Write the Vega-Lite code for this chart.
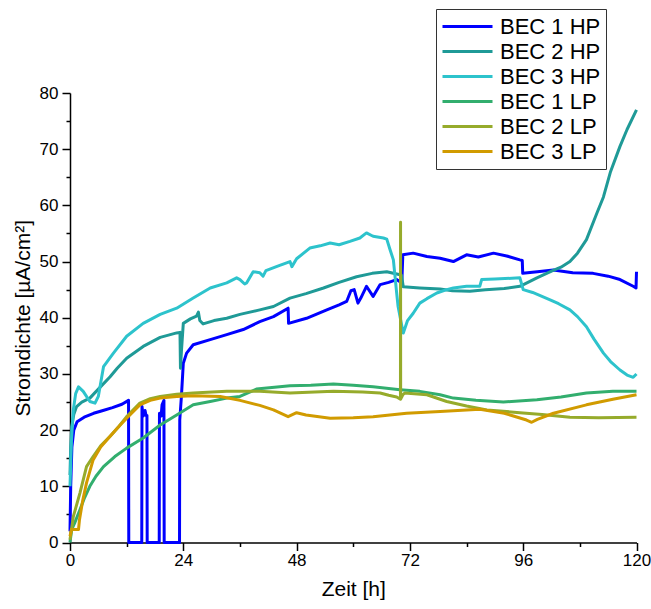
{
  "$schema": "https://vega.github.io/schema/vega-lite/v6.json",
  "width": 566.5,
  "height": 449.5,
  "autosize": "none",
  "padding": {"left": 70, "top": 93, "right": 14.5, "bottom": 66.5},
  "background": "white",
  "config": {"view": {"stroke": null}, "font": "Liberation Sans"},
  "data": {"values": [
    {"s":"BEC 1 HP","t":0,"v":2},{"s":"BEC 1 HP","t":0.15,"v":10},{"s":"BEC 1 HP","t":0.4,"v":17},{"s":"BEC 1 HP","t":0.8,"v":20},{"s":"BEC 1 HP","t":1.5,"v":21.5},{"s":"BEC 1 HP","t":3,"v":22.3},{"s":"BEC 1 HP","t":5,"v":23},{"s":"BEC 1 HP","t":7,"v":23.5},{"s":"BEC 1 HP","t":9,"v":24},{"s":"BEC 1 HP","t":11,"v":24.6},{"s":"BEC 1 HP","t":12.4,"v":25.3},{"s":"BEC 1 HP","t":12.45,"v":0},{"s":"BEC 1 HP","t":15.2,"v":0},{"s":"BEC 1 HP","t":15.25,"v":24.2},{"s":"BEC 1 HP","t":15.5,"v":22.5},{"s":"BEC 1 HP","t":15.9,"v":23.5},{"s":"BEC 1 HP","t":16.1,"v":22.6},{"s":"BEC 1 HP","t":16.3,"v":22.6},{"s":"BEC 1 HP","t":16.35,"v":0},{"s":"BEC 1 HP","t":18.9,"v":0},{"s":"BEC 1 HP","t":18.95,"v":23},{"s":"BEC 1 HP","t":19.3,"v":22.5},{"s":"BEC 1 HP","t":19.5,"v":24.5},{"s":"BEC 1 HP","t":19.9,"v":25.3},{"s":"BEC 1 HP","t":19.95,"v":0},{"s":"BEC 1 HP","t":23.2,"v":0},{"s":"BEC 1 HP","t":23.25,"v":21.8},{"s":"BEC 1 HP","t":23.6,"v":26},{"s":"BEC 1 HP","t":24,"v":31.9},{"s":"BEC 1 HP","t":24.7,"v":33.7},{"s":"BEC 1 HP","t":26.1,"v":35.2},{"s":"BEC 1 HP","t":29.7,"v":36.1},{"s":"BEC 1 HP","t":33.2,"v":37},{"s":"BEC 1 HP","t":36.7,"v":37.9},{"s":"BEC 1 HP","t":40.2,"v":39.3},{"s":"BEC 1 HP","t":43.1,"v":40.2},{"s":"BEC 1 HP","t":46.2,"v":41.7},{"s":"BEC 1 HP","t":46.3,"v":39},{"s":"BEC 1 HP","t":50.1,"v":39.9},{"s":"BEC 1 HP","t":54.4,"v":41.4},{"s":"BEC 1 HP","t":57,"v":42.3},{"s":"BEC 1 HP","t":58.6,"v":42.9},{"s":"BEC 1 HP","t":59.5,"v":44.8},{"s":"BEC 1 HP","t":60.2,"v":45},{"s":"BEC 1 HP","t":61,"v":42.6},{"s":"BEC 1 HP","t":61.6,"v":43.5},{"s":"BEC 1 HP","t":62.8,"v":45.6},{"s":"BEC 1 HP","t":64.2,"v":43.8},{"s":"BEC 1 HP","t":65.7,"v":45.9},{"s":"BEC 1 HP","t":67.5,"v":46.3},{"s":"BEC 1 HP","t":69.2,"v":46.8},{"s":"BEC 1 HP","t":69.9,"v":46.4},{"s":"BEC 1 HP","t":70.3,"v":46.5},{"s":"BEC 1 HP","t":70.5,"v":51.2},{"s":"BEC 1 HP","t":72.7,"v":51.5},{"s":"BEC 1 HP","t":75.6,"v":50.9},{"s":"BEC 1 HP","t":78.4,"v":50.6},{"s":"BEC 1 HP","t":81.2,"v":50},{"s":"BEC 1 HP","t":84,"v":51.2},{"s":"BEC 1 HP","t":86.5,"v":50.8},{"s":"BEC 1 HP","t":89.7,"v":51.5},{"s":"BEC 1 HP","t":92.5,"v":51},{"s":"BEC 1 HP","t":95.3,"v":50.3},{"s":"BEC 1 HP","t":95.8,"v":50.2},{"s":"BEC 1 HP","t":95.9,"v":47.9},{"s":"BEC 1 HP","t":99,"v":48.2},{"s":"BEC 1 HP","t":102.4,"v":48.5},{"s":"BEC 1 HP","t":106.5,"v":48},{"s":"BEC 1 HP","t":110.8,"v":47.9},{"s":"BEC 1 HP","t":114,"v":47.4},{"s":"BEC 1 HP","t":116.5,"v":46.8},{"s":"BEC 1 HP","t":119.3,"v":45.6},{"s":"BEC 1 HP","t":119.9,"v":45.3},{"s":"BEC 1 HP","t":120,"v":48.2},

    {"s":"BEC 2 HP","t":0,"v":12},{"s":"BEC 2 HP","t":0.15,"v":17},{"s":"BEC 2 HP","t":0.35,"v":20.6},{"s":"BEC 2 HP","t":0.8,"v":22.8},{"s":"BEC 2 HP","t":1.4,"v":24.2},{"s":"BEC 2 HP","t":2.5,"v":25},{"s":"BEC 2 HP","t":4.2,"v":25.7},{"s":"BEC 2 HP","t":6,"v":27.3},{"s":"BEC 2 HP","t":8.5,"v":29.5},{"s":"BEC 2 HP","t":10,"v":31},{"s":"BEC 2 HP","t":12,"v":32.8},{"s":"BEC 2 HP","t":15.5,"v":34.9},{"s":"BEC 2 HP","t":19.1,"v":36.5},{"s":"BEC 2 HP","t":22.6,"v":37.3},{"s":"BEC 2 HP","t":23.3,"v":37.4},{"s":"BEC 2 HP","t":23.4,"v":31},{"s":"BEC 2 HP","t":23.6,"v":34},{"s":"BEC 2 HP","t":24,"v":39},{"s":"BEC 2 HP","t":25.5,"v":39.8},{"s":"BEC 2 HP","t":26.8,"v":40.3},{"s":"BEC 2 HP","t":27.2,"v":41},{"s":"BEC 2 HP","t":27.5,"v":39.5},{"s":"BEC 2 HP","t":28.2,"v":38.9},{"s":"BEC 2 HP","t":30.5,"v":39.5},{"s":"BEC 2 HP","t":33.2,"v":39.9},{"s":"BEC 2 HP","t":36,"v":40.6},{"s":"BEC 2 HP","t":40.2,"v":41.4},{"s":"BEC 2 HP","t":43.1,"v":42},{"s":"BEC 2 HP","t":46.6,"v":43.5},{"s":"BEC 2 HP","t":50,"v":44.3},{"s":"BEC 2 HP","t":53.7,"v":45.3},{"s":"BEC 2 HP","t":57,"v":46.3},{"s":"BEC 2 HP","t":60.7,"v":47.3},{"s":"BEC 2 HP","t":64,"v":47.9},{"s":"BEC 2 HP","t":67.1,"v":48.2},{"s":"BEC 2 HP","t":69.2,"v":47.8},{"s":"BEC 2 HP","t":70.2,"v":47.6},{"s":"BEC 2 HP","t":70.6,"v":45.5},{"s":"BEC 2 HP","t":74.1,"v":45.3},{"s":"BEC 2 HP","t":78.4,"v":45.1},{"s":"BEC 2 HP","t":81,"v":44.8},{"s":"BEC 2 HP","t":84.7,"v":44.7},{"s":"BEC 2 HP","t":88,"v":45},{"s":"BEC 2 HP","t":92,"v":45.2},{"s":"BEC 2 HP","t":95.3,"v":45.6},{"s":"BEC 2 HP","t":97,"v":46.3},{"s":"BEC 2 HP","t":98.9,"v":47.1},{"s":"BEC 2 HP","t":102,"v":48.3},{"s":"BEC 2 HP","t":104,"v":49},{"s":"BEC 2 HP","t":105.9,"v":50},{"s":"BEC 2 HP","t":107.5,"v":51.5},{"s":"BEC 2 HP","t":109.4,"v":53.9},{"s":"BEC 2 HP","t":111.6,"v":58.6},{"s":"BEC 2 HP","t":113,"v":61.5},{"s":"BEC 2 HP","t":114.5,"v":66},{"s":"BEC 2 HP","t":116.5,"v":70.5},{"s":"BEC 2 HP","t":118,"v":73.5},{"s":"BEC 2 HP","t":120,"v":77},

    {"s":"BEC 3 HP","t":0,"v":10},{"s":"BEC 3 HP","t":0.3,"v":18},{"s":"BEC 3 HP","t":0.7,"v":23.6},{"s":"BEC 3 HP","t":1.2,"v":26.5},{"s":"BEC 3 HP","t":1.8,"v":27.7},{"s":"BEC 3 HP","t":2.8,"v":26.9},{"s":"BEC 3 HP","t":4.2,"v":25.1},{"s":"BEC 3 HP","t":5.3,"v":24.8},{"s":"BEC 3 HP","t":6,"v":26},{"s":"BEC 3 HP","t":7.1,"v":31.3},{"s":"BEC 3 HP","t":9.2,"v":33.7},{"s":"BEC 3 HP","t":12,"v":36.7},{"s":"BEC 3 HP","t":15.5,"v":39},{"s":"BEC 3 HP","t":19.1,"v":40.6},{"s":"BEC 3 HP","t":22.6,"v":41.7},{"s":"BEC 3 HP","t":26.1,"v":43.5},{"s":"BEC 3 HP","t":29.7,"v":45.3},{"s":"BEC 3 HP","t":33.2,"v":46.2},{"s":"BEC 3 HP","t":35.3,"v":47.1},{"s":"BEC 3 HP","t":36,"v":46.8},{"s":"BEC 3 HP","t":37,"v":46},{"s":"BEC 3 HP","t":37.4,"v":46.2},{"s":"BEC 3 HP","t":38.8,"v":48.2},{"s":"BEC 3 HP","t":40.2,"v":48},{"s":"BEC 3 HP","t":40.9,"v":47.4},{"s":"BEC 3 HP","t":41.5,"v":48.4},{"s":"BEC 3 HP","t":44,"v":49.2},{"s":"BEC 3 HP","t":46.6,"v":50},{"s":"BEC 3 HP","t":47,"v":49.1},{"s":"BEC 3 HP","t":48,"v":50.5},{"s":"BEC 3 HP","t":50.8,"v":52.4},{"s":"BEC 3 HP","t":53,"v":52.8},{"s":"BEC 3 HP","t":55.1,"v":53.3},{"s":"BEC 3 HP","t":57,"v":53},{"s":"BEC 3 HP","t":59.3,"v":53.6},{"s":"BEC 3 HP","t":61.4,"v":54.2},{"s":"BEC 3 HP","t":62.8,"v":55.1},{"s":"BEC 3 HP","t":64.2,"v":54.5},{"s":"BEC 3 HP","t":66.4,"v":54.2},{"s":"BEC 3 HP","t":67.1,"v":54},{"s":"BEC 3 HP","t":67.8,"v":52.1},{"s":"BEC 3 HP","t":68.5,"v":50.3},{"s":"BEC 3 HP","t":69.2,"v":44.4},{"s":"BEC 3 HP","t":69.5,"v":42},{"s":"BEC 3 HP","t":70.3,"v":38.5},{"s":"BEC 3 HP","t":70.6,"v":37.3},{"s":"BEC 3 HP","t":71.5,"v":39.5},{"s":"BEC 3 HP","t":72.7,"v":40.8},{"s":"BEC 3 HP","t":74.1,"v":42.6},{"s":"BEC 3 HP","t":75.6,"v":43.4},{"s":"BEC 3 HP","t":77.7,"v":44.4},{"s":"BEC 3 HP","t":79.8,"v":45},{"s":"BEC 3 HP","t":81.2,"v":45.3},{"s":"BEC 3 HP","t":84,"v":45.6},{"s":"BEC 3 HP","t":86.8,"v":45.6},{"s":"BEC 3 HP","t":87.2,"v":46.8},{"s":"BEC 3 HP","t":90,"v":46.9},{"s":"BEC 3 HP","t":95.3,"v":47.1},{"s":"BEC 3 HP","t":96,"v":45},{"s":"BEC 3 HP","t":98,"v":44.5},{"s":"BEC 3 HP","t":101.7,"v":43.2},{"s":"BEC 3 HP","t":103.5,"v":42.5},{"s":"BEC 3 HP","t":105.9,"v":41.4},{"s":"BEC 3 HP","t":107.5,"v":40.2},{"s":"BEC 3 HP","t":109.4,"v":38.4},{"s":"BEC 3 HP","t":111,"v":36.2},{"s":"BEC 3 HP","t":113,"v":33.7},{"s":"BEC 3 HP","t":114.5,"v":32.2},{"s":"BEC 3 HP","t":116.5,"v":30.7},{"s":"BEC 3 HP","t":118,"v":29.8},{"s":"BEC 3 HP","t":119.3,"v":29.4},{"s":"BEC 3 HP","t":120,"v":30},

    {"s":"BEC 1 LP","t":0,"v":0},{"s":"BEC 1 LP","t":0.35,"v":2.3},{"s":"BEC 1 LP","t":1,"v":3.5},{"s":"BEC 1 LP","t":2.1,"v":5.8},{"s":"BEC 1 LP","t":3,"v":7.8},{"s":"BEC 1 LP","t":4.2,"v":10},{"s":"BEC 1 LP","t":5.5,"v":11.8},{"s":"BEC 1 LP","t":7.1,"v":13.5},{"s":"BEC 1 LP","t":9.5,"v":15.3},{"s":"BEC 1 LP","t":12,"v":16.8},{"s":"BEC 1 LP","t":15.5,"v":18.6},{"s":"BEC 1 LP","t":19.1,"v":20.9},{"s":"BEC 1 LP","t":22.6,"v":22.7},{"s":"BEC 1 LP","t":26.1,"v":24.5},{"s":"BEC 1 LP","t":29.7,"v":25.1},{"s":"BEC 1 LP","t":33.2,"v":25.7},{"s":"BEC 1 LP","t":36,"v":26},{"s":"BEC 1 LP","t":39.5,"v":27.3},{"s":"BEC 1 LP","t":46.6,"v":27.9},{"s":"BEC 1 LP","t":51,"v":28},{"s":"BEC 1 LP","t":55.8,"v":28.2},{"s":"BEC 1 LP","t":60,"v":28},{"s":"BEC 1 LP","t":64.2,"v":27.7},{"s":"BEC 1 LP","t":69.9,"v":27.2},{"s":"BEC 1 LP","t":74.1,"v":26.9},{"s":"BEC 1 LP","t":78.4,"v":26.3},{"s":"BEC 1 LP","t":81.2,"v":25.7},{"s":"BEC 1 LP","t":86,"v":25.3},{"s":"BEC 1 LP","t":91.8,"v":25},{"s":"BEC 1 LP","t":98.9,"v":25.4},{"s":"BEC 1 LP","t":104,"v":25.9},{"s":"BEC 1 LP","t":109.4,"v":26.6},{"s":"BEC 1 LP","t":115,"v":26.9},{"s":"BEC 1 LP","t":120,"v":26.9},

    {"s":"BEC 2 LP","t":0,"v":0.5},{"s":"BEC 2 LP","t":0.7,"v":4.6},{"s":"BEC 2 LP","t":2.1,"v":8.8},{"s":"BEC 2 LP","t":3.5,"v":13.5},{"s":"BEC 2 LP","t":4.9,"v":15.3},{"s":"BEC 2 LP","t":6.5,"v":17.2},{"s":"BEC 2 LP","t":8.5,"v":18.9},{"s":"BEC 2 LP","t":10.3,"v":20.6},{"s":"BEC 2 LP","t":12,"v":22.4},{"s":"BEC 2 LP","t":14.8,"v":24.8},{"s":"BEC 2 LP","t":17,"v":25.6},{"s":"BEC 2 LP","t":19.1,"v":26},{"s":"BEC 2 LP","t":22.6,"v":26.4},{"s":"BEC 2 LP","t":26.1,"v":26.6},{"s":"BEC 2 LP","t":33.2,"v":26.9},{"s":"BEC 2 LP","t":40.2,"v":26.9},{"s":"BEC 2 LP","t":46.6,"v":26.6},{"s":"BEC 2 LP","t":55.8,"v":26.9},{"s":"BEC 2 LP","t":62,"v":26.8},{"s":"BEC 2 LP","t":65.7,"v":26.6},{"s":"BEC 2 LP","t":67.5,"v":26.2},{"s":"BEC 2 LP","t":69.2,"v":25.9},{"s":"BEC 2 LP","t":70,"v":25.5},{"s":"BEC 2 LP","t":70.02,"v":57},{"s":"BEC 2 LP","t":70.04,"v":25.5},{"s":"BEC 2 LP","t":70.5,"v":26.3},{"s":"BEC 2 LP","t":70.9,"v":26.6},{"s":"BEC 2 LP","t":75.6,"v":26.3},{"s":"BEC 2 LP","t":78.4,"v":25.5},{"s":"BEC 2 LP","t":79.8,"v":25.1},{"s":"BEC 2 LP","t":84,"v":24.3},{"s":"BEC 2 LP","t":88.3,"v":23.6},{"s":"BEC 2 LP","t":95.3,"v":23.1},{"s":"BEC 2 LP","t":100,"v":22.8},{"s":"BEC 2 LP","t":105.9,"v":22.3},{"s":"BEC 2 LP","t":112,"v":22.2},{"s":"BEC 2 LP","t":120,"v":22.3},

    {"s":"BEC 3 LP","t":0,"v":1.1},{"s":"BEC 3 LP","t":0.3,"v":2.3},{"s":"BEC 3 LP","t":1.8,"v":2.3},{"s":"BEC 3 LP","t":2,"v":4},{"s":"BEC 3 LP","t":2.7,"v":7.5},{"s":"BEC 3 LP","t":3.5,"v":10.6},{"s":"BEC 3 LP","t":4.9,"v":14.7},{"s":"BEC 3 LP","t":6.5,"v":17},{"s":"BEC 3 LP","t":8.5,"v":18.9},{"s":"BEC 3 LP","t":10.3,"v":20.6},{"s":"BEC 3 LP","t":12,"v":22.1},{"s":"BEC 3 LP","t":14.8,"v":24.5},{"s":"BEC 3 LP","t":17,"v":25.3},{"s":"BEC 3 LP","t":19.1,"v":25.7},{"s":"BEC 3 LP","t":22.6,"v":26},{"s":"BEC 3 LP","t":26.1,"v":26.1},{"s":"BEC 3 LP","t":31.8,"v":26},{"s":"BEC 3 LP","t":36,"v":25.3},{"s":"BEC 3 LP","t":40.2,"v":24.4},{"s":"BEC 3 LP","t":43.1,"v":23.6},{"s":"BEC 3 LP","t":46.2,"v":22.4},{"s":"BEC 3 LP","t":48,"v":23.1},{"s":"BEC 3 LP","t":50,"v":22.7},{"s":"BEC 3 LP","t":55.1,"v":22.1},{"s":"BEC 3 LP","t":60,"v":22.2},{"s":"BEC 3 LP","t":64.2,"v":22.4},{"s":"BEC 3 LP","t":71.3,"v":23},{"s":"BEC 3 LP","t":78.4,"v":23.3},{"s":"BEC 3 LP","t":86.8,"v":23.7},{"s":"BEC 3 LP","t":92,"v":23},{"s":"BEC 3 LP","t":96.7,"v":21.8},{"s":"BEC 3 LP","t":97.8,"v":21.4},{"s":"BEC 3 LP","t":99,"v":21.9},{"s":"BEC 3 LP","t":102.4,"v":23},{"s":"BEC 3 LP","t":109.4,"v":24.5},{"s":"BEC 3 LP","t":115,"v":25.5},{"s":"BEC 3 LP","t":120,"v":26.3}
  ]},
  "mark": {"type": "line", "strokeWidth": 3, "strokeJoin": "round", "clip": false},
  "encoding": {
    "x": {
      "field": "t", "type": "quantitative",
      "scale": {"domain": [0, 120], "nice": false, "zero": false},
      "axis": {
        "title": "Zeit [h]",
        "values": [0, 12, 24, 36, 48, 60, 72, 84, 96, 108, 120],
        "labelExpr": "datum.value % 24 == 0 ? datum.label : ''",
        "tickSize": {"condition": {"test": "datum.value % 24 != 0", "value": 4}, "value": 8},
        "grid": false,
        "domainColor": "black", "domainWidth": 1.5,
        "tickColor": "black", "tickWidth": 1.5,
        "labelColor": "black", "labelFontSize": 17, "labelPadding": 2, "labelFlush": false,
        "titleColor": "black", "titleFontSize": 21, "titleFontWeight": "normal", "titlePadding": 10
      }
    },
    "y": {
      "field": "v", "type": "quantitative",
      "scale": {"domain": [0, 80], "nice": false},
      "axis": {
        "title": "Stromdichte [µA/cm²]",
        "values": [0, 5, 10, 15, 20, 25, 30, 35, 40, 45, 50, 55, 60, 65, 70, 75, 80],
        "labelExpr": "datum.value % 10 == 0 ? datum.label : ''",
        "tickSize": {"condition": {"test": "datum.value % 10 != 0", "value": 4}, "value": 8},
        "grid": false,
        "domainColor": "black", "domainWidth": 1.5,
        "tickColor": "black", "tickWidth": 1.5,
        "labelColor": "black", "labelFontSize": 17, "labelPadding": 4, "labelFlush": false,
        "titleColor": "black", "titleFontSize": 21, "titleFontWeight": "normal", "titlePadding": 6
      }
    },
    "color": {
      "field": "s", "type": "nominal",
      "scale": {
        "domain": ["BEC 1 HP", "BEC 2 HP", "BEC 3 HP", "BEC 1 LP", "BEC 2 LP", "BEC 3 LP"],
        "range": ["#0000ff", "#1f9a97", "#2dc3cc", "#32ae6e", "#96ab2b", "#d19b00"]
      },
      "legend": {
        "title": null,
        "orient": "none",
        "legendX": 366,
        "legendY": -84,
        "symbolType": "stroke",
        "symbolSize": 2500,
        "symbolStrokeWidth": 3,
        "labelFontSize": 22,
        "labelColor": "black",
        "labelOffset": 6,
        "labelLimit": 300,
        "clipHeight": 25,
        "rowPadding": 0,
        "padding": 5,
        "strokeColor": "#333333",
        "fillColor": "white"
      }
    }
  }
}
